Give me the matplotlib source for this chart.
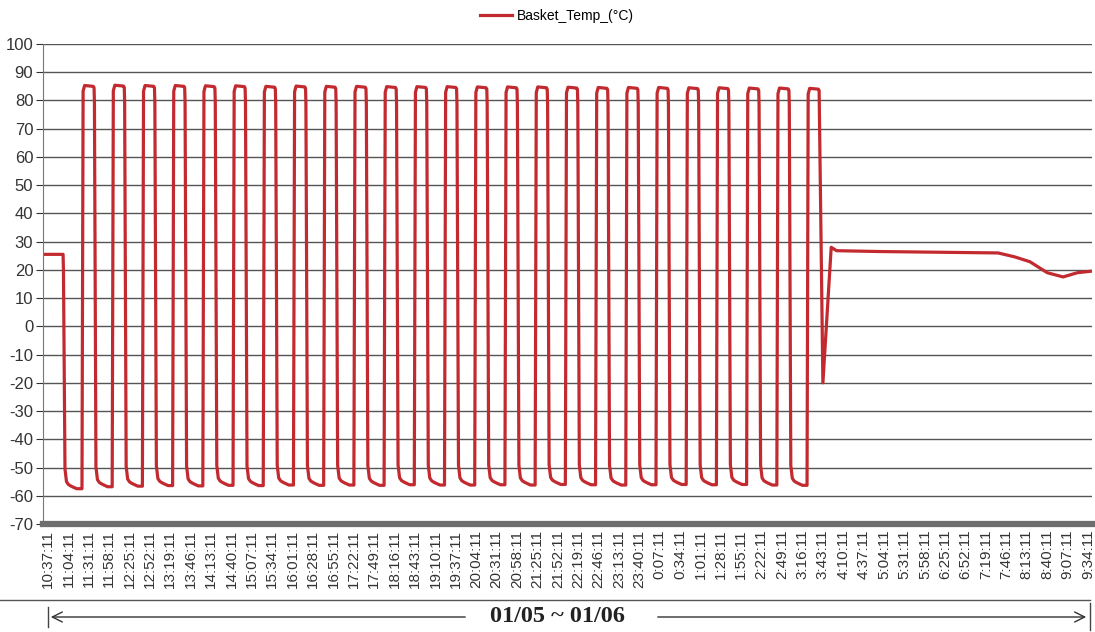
import matplotlib.pyplot as plt
from matplotlib.lines import Line2D

# time axis: minutes after 10:37:11, one label every 27 min
tick_labels = ['10:37:11', '11:04:11', '11:31:11', '11:58:11', '12:25:11', '12:52:11',
               '13:19:11', '13:46:11', '14:13:11', '14:40:11', '15:07:11', '15:34:11',
               '16:01:11', '16:28:11', '16:55:11', '17:22:11', '17:49:11', '18:16:11',
               '18:43:11', '19:10:11', '19:37:11', '20:04:11', '20:31:11', '20:58:11',
               '21:25:11', '21:52:11', '22:19:11', '22:46:11', '23:13:11', '23:40:11',
               '0:07:11', '0:34:11', '1:01:11', '1:28:11', '1:55:11', '2:22:11',
               '2:49:11', '3:16:11', '3:43:11', '4:10:11', '4:37:11', '5:04:11',
               '5:31:11', '5:58:11', '6:25:11', '6:52:11', '7:19:11', '7:46:11',
               '8:13:11', '8:40:11', '9:07:11', '9:34:11']
tick_step = 27

# ambient before the test
start_t = [-4, 20]
start_v = [25.5, 25.5]

# thermal shock cycles (start of hot ramp, hot level, cold level)
rise_t = [45, 85, 125, 165, 205, 245, 285, 325, 365, 405, 445, 485, 525,
          565, 605, 645, 685, 725, 765, 805, 845, 885, 925, 965, 1005]
hot_v = [85.3, 85.4, 85.3, 85.3, 85.2, 85.2, 85.0, 85.1, 85.0, 85.0, 84.9, 84.9, 84.9,
         84.8, 84.8, 84.8, 84.7, 84.6, 84.6, 84.6, 84.5, 84.5, 84.4, 84.4, 84.3]
cold_v = [-57.5, -56.8, -56.6, -56.4, -56.5, -56.3, -56.4, -56.2, -56.3, -56.2, -56.3, -56.1, -56.2,
          -56.2, -56.1, -56.2, -56.0, -56.1, -56.2, -56.1, -56.0, -56.1, -56.0, -56.2, -56.3]

# one cycle: (minutes from hot ramp start, offset from level)
hot_shape_t = [1.5, 3.5, 15.0]
hot_shape_d = [-2.0, 0.0, -0.3]
cold_shape_t = [0.5, 2.5, 4.5, 7.0, 10.0, 13.0, 18.0]
cold_shape_d = [-6.0, 7.0, 2.5, 1.5, 1.0, 0.6, 0.0]

# after the last cycle
tail_t = [1026, 1037, 1044, 1100, 1160, 1220, 1258, 1280, 1300, 1323, 1344, 1363, 1380]
tail_v = [-20.0, 28.0, 26.8, 26.5, 26.3, 26.1, 26.0, 24.6, 22.9, 19.0, 17.5, 19.0, 19.5]

# assemble the polyline
t = list(start_t)
v = list(start_v)
fall = start_t[-1]
prev_hot = start_v[-1]
for k in range(len(rise_t)):
    t.append(fall + cold_shape_t[0]); v.append(prev_hot + cold_shape_d[0])
    for dt, dv in zip(cold_shape_t[1:], cold_shape_d[1:]):
        t.append(fall + dt); v.append(cold_v[k] + dv)
    t.append(rise_t[k]); v.append(cold_v[k])
    for dt, dv in zip(hot_shape_t, hot_shape_d):
        t.append(rise_t[k] + dt); v.append(hot_v[k] + dv)
    fall = rise_t[k] + 16
    prev_hot = hot_v[k]
    t.append(fall); v.append(prev_hot - 0.8)
t += tail_t
v += tail_v

W, H = 1095, 632
fig = plt.figure(figsize=(W / 100, H / 100), dpi=100)
plt.rcParams['font.family'] = ['Liberation Sans', 'DejaVu Sans']
plt.rcParams['axes.unicode_minus'] = False


def px(x, y):
    return x / W, 1 - y / H


l, b = px(43, 524)
r, tp = px(1092, 44)
ax = fig.add_axes([l, b, r - l, tp - b])

line, = ax.plot(t, v, color='#C22A2F', lw=2.3, label='Basket_Temp_(°C)')

ax.set_ylim(-70, 100)
ax.set_xlim(-6.6, 1382.3)
ax.set_yticks(range(-70, 101, 10))
ax.set_xticks([i * tick_step for i in range(len(tick_labels))])
ax.set_xticklabels(tick_labels, rotation=90, fontsize=11, color='#333333')
ax.tick_params(axis='y', labelsize=12, colors='#333333', length=5, width=0.8,
               direction='out', pad=2)
ax.tick_params(axis='x', length=0, pad=4)

ax.grid(axis='y', color='#555555', lw=1.0)
ax.set_axisbelow(True)
for s in ['top', 'right']:
    ax.spines[s].set_visible(False)
ax.spines['left'].set_color('#777777')
ax.spines['left'].set_linewidth(0.8)
ax.spines['bottom'].set_color('#6e6e6e')
ax.spines['bottom'].set_linewidth(4.5)

fig.legend(handles=[line], loc='center', bbox_to_anchor=px(557, 16), frameon=False,
           fontsize=10, handlelength=2.3, handletextpad=0.3)

# date range marker under the axis
fig.add_artist(Line2D([0, px(1090, 0)[0]], [px(0, 600)[1]] * 2, color='#555555', lw=1.0))
fig.add_artist(Line2D([px(1090, 0)[0]] * 2, [px(0, 603)[1], px(0, 630)[1]], color='#444444', lw=1.0))
fig.add_artist(Line2D([px(48, 0)[0]] * 2, [px(0, 607)[1], px(0, 627)[1]], color='#444444', lw=1.0))
ax.annotate('', xy=px(48, 617), xytext=px(468, 617), xycoords='figure fraction',
            textcoords='figure fraction',
            arrowprops=dict(arrowstyle='->', color='#333333', lw=1.0, mutation_scale=18))
ax.annotate('', xy=px(1089, 617), xytext=px(655, 617), xycoords='figure fraction',
            textcoords='figure fraction',
            arrowprops=dict(arrowstyle='->', color='#333333', lw=1.0, mutation_scale=18))
fig.text(*px(557, 617), '01/05 ~ 01/06', ha='center', va='center', fontsize=17.5,
         fontweight='bold', family='Liberation Serif', color='#222222')

fig.savefig('out.png', dpi=100)
